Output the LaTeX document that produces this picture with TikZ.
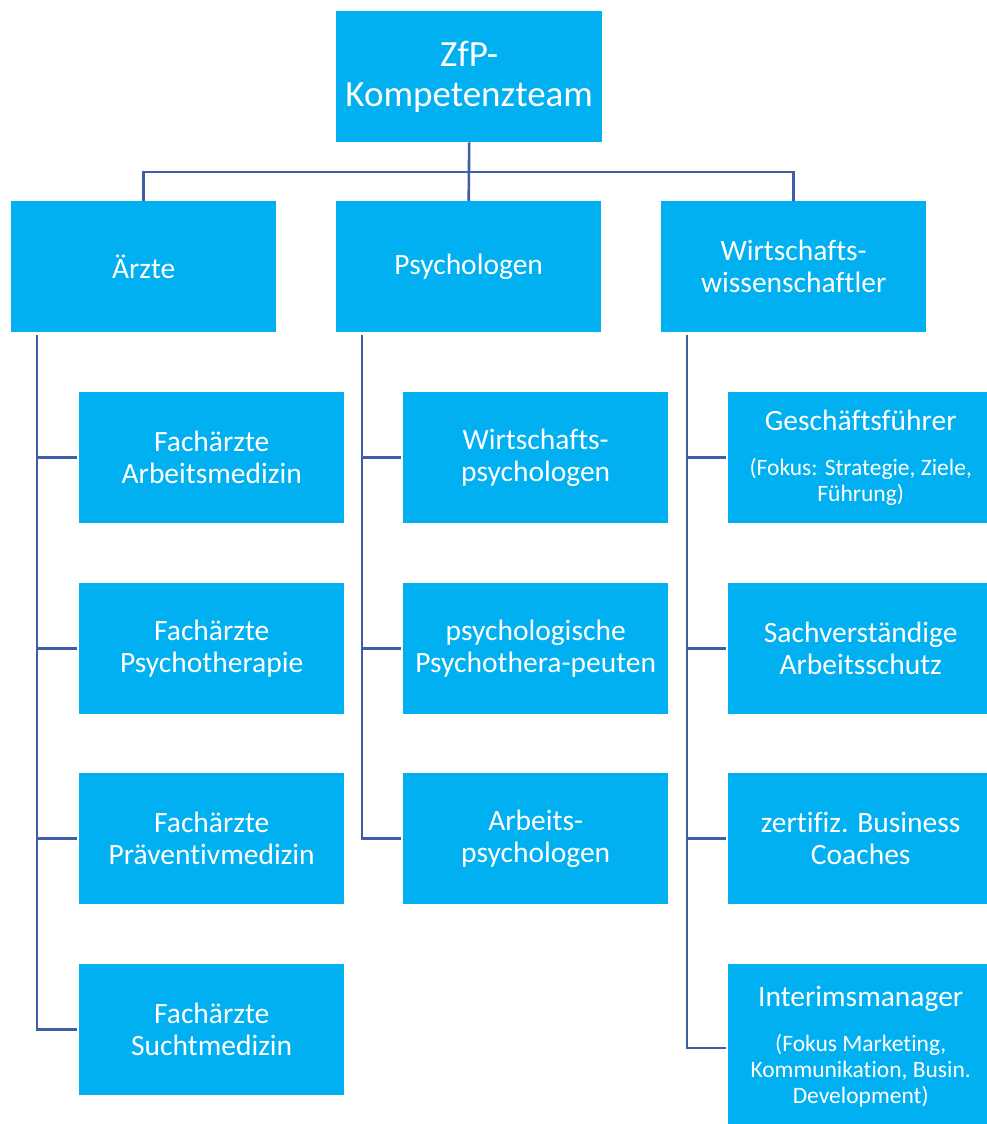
\documentclass[tikz,border=0pt]{standalone}
\usepackage{fontspec}
\setmainfont{Carlito}[Ligatures=NoCommon]
\definecolor{boxblue}{RGB}{0,176,240}
\definecolor{linkblue}{RGB}{64,94,168}
\newcommand{\subtxt}{\fontsize{23.5}{26}\selectfont}
\begin{document}
\begin{tikzpicture}[x=1pt,y=-1pt,
  box/.style={fill=boxblue,draw=none,text=white,align=center,anchor=north west,
    minimum width=265pt,minimum height=131pt,inner sep=0pt,
    font=\fontsize{29.5}{32}\selectfont},
  conn/.style={draw=linkblue,line width=2.6pt}]
\useasboundingbox (0,0) rectangle (987,1124);
\clip (0,0) rectangle (987,1124);
% top
\node[box,minimum width=266pt,font=\fontsize{37}{40}\selectfont] (top) at (336,11) {ZfP-\\Kompetenzteam};
% level 2
\node[box] (a) at (11,201) {Ärzte};
\node[box] (p) at (336,201) {Psychologen};
\node[box] (w) at (661,201) {Wirtschafts-\\wissenschaftler};
% Aerzte children
\node[box] (a1) at (79,392) {Fachärzte\\Arbeitsmedizin};
\node[box] (a2) at (79,583) {Fachärzte\\Psychotherapie};
\node[box] (a3) at (79,773) {Fachärzte\\Präventivmedizin};
\node[box] (a4) at (79,964) {Fachärzte\\Suchtmedizin};
% Psych children
\node[box] (p1) at (403,392) {Wirtschafts-\\psychologen};
\node[box] (p2) at (403,583) {psychologische\\Psychothera-peuten};
\node[box] (p3) at (403,773) {Arbeits-\\psychologen};
% Wirtschaft children
\node[box] (w1) at (728,392) {Geschäftsführer\\[13pt]\subtxt (Fokus: Strategie, Ziele,\\[-6pt]\subtxt Führung)};
\node[box] (w2) at (728,583) {Sachverständige\\Arbeitsschutz};
\node[box] (w3) at (728,773) {zertifiz. Business\\Coaches};
\node[box,minimum height=166pt] (w4) at (728,964) {Interimsmanager\\[13pt]\subtxt (Fokus Marketing,\\[-6pt]\subtxt Kommunikation, Busin.\\[-6pt]\subtxt Development)};
% top connectors
\coordinate (bar) at (469,172);
\draw[conn] (top.south) -- (p.north);
\draw[conn] (a.north) -- (a.north |- bar) -- (w.north |- bar) -- (w.north);
% spines
\coordinate (as) at (37,335);
\coordinate (ps) at (362,335);
\coordinate (ws) at (687,335);
\draw[conn] (as) |- ([xshift=-2pt]a4.west);
\foreach \c in {a1,a2,a3} \draw[conn] (as |- \c.west) -- ([xshift=-2pt]\c.west);
\draw[conn] (ps) |- ([xshift=-2pt]p3.west);
\foreach \c in {p1,p2} \draw[conn] (ps |- \c.west) -- ([xshift=-2pt]\c.west);
\coordinate (w4c) at (728,1048);
\draw[conn] (ws) |- ([xshift=-2pt]w4c);
\foreach \c in {w1,w2,w3} \draw[conn] (ws |- \c.west) -- ([xshift=-2pt]\c.west);
\end{tikzpicture}
\end{document}
